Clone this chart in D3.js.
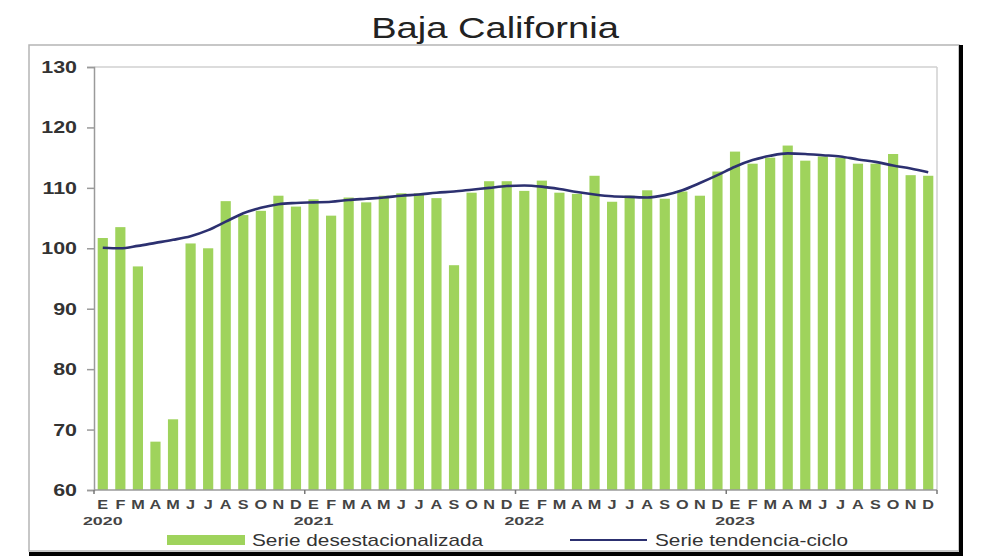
<!DOCTYPE html>
<html>
<head>
<meta charset="utf-8">
<script src="https://cdn.jsdelivr.net/npm/d3@7"></script>
<style>
  html, body { margin: 0; padding: 0; background: #fff; }
  text { font-family: "Liberation Sans", Arial, sans-serif; }
</style>
</head>
<body>
<svg id="chart" width="990" height="556"></svg>
<script>
const monthLabels = ["E","F","M","A","M","J","J","A","S","O","N","D"];
const years = ["2020","2021","2022","2023"];
const seasonal = [
  101.7,103.5,97.0,68.0,71.7,100.8,100.0,107.8,105.5,106.2,108.7,106.9,
  108.1,105.4,108.4,107.6,108.7,109.1,109.1,108.3,97.2,109.2,111.1,111.1,
  109.5,111.2,109.2,109.0,112.0,107.7,108.7,109.6,108.2,109.4,108.7,112.7,
  116.0,114.0,115.0,117.0,114.5,115.2,115.0,114.0,114.0,115.6,112.1,112.0
];
const trend = [
  100.1,100.0,100.4,100.9,101.4,102.0,103.0,104.4,105.8,106.7,107.3,107.5,
  107.6,107.7,108.0,108.2,108.4,108.7,108.9,109.2,109.4,109.7,110.0,110.3,
  110.4,110.2,109.8,109.3,108.9,108.6,108.5,108.4,108.8,109.6,110.8,112.1,
  113.5,114.6,115.3,115.7,115.6,115.4,115.2,114.7,114.3,113.7,113.2,112.6
];
const yTicks = [60,70,80,90,100,110,120,130];
const title = "Baja California";
const legendLabels = ["Serie desestacionalizada","Serie tendencia-ciclo"];

const svg = d3.select("#chart");
const plot = {left: 94, right: 937, top: 67, bottom: 490};
const barColor = "#9fd35c", lineColor = "#2c3070";

const idx = d3.range(seasonal.length);
const x = d3.scaleBand().domain(idx).range([plot.left, plot.right]).paddingInner(0.42).paddingOuter(0.21);
const y = d3.scaleLinear().domain([60,130]).range([plot.bottom, plot.top]);

function stext(g, tx, ty, str, size, sx, anchor, fill, weight) {
  return g.append("text")
    .attr("transform", `translate(${tx},${ty}) scale(${sx},1)`)
    .attr("text-anchor", anchor)
    .attr("font-size", size)
    .attr("font-weight", weight || "normal")
    .attr("fill", fill)
    .text(str);
}

// outer frame
svg.append("rect").attr("x",29).attr("y",45).attr("width",930).attr("height",506)
  .attr("fill","none").attr("stroke","#b5b5b5").attr("stroke-width",1.5);
svg.append("line").attr("x1",961).attr("x2",961).attr("y1",45).attr("y2",556)
  .attr("stroke","#000").attr("stroke-width",4);
svg.append("line").attr("x1",29).attr("x2",963).attr("y1",554).attr("y2",554)
  .attr("stroke","#000").attr("stroke-width",4);

// title
stext(svg, 495, 38, title, 30, 1.27, "middle", "#222");

// plot area border (top and right)
svg.append("line").attr("x1",plot.left).attr("x2",plot.right).attr("y1",plot.top).attr("y2",plot.top)
  .attr("stroke","#d0d0d0").attr("stroke-width",1.5);
svg.append("line").attr("x1",plot.right).attr("x2",plot.right).attr("y1",plot.top).attr("y2",plot.bottom)
  .attr("stroke","#d0d0d0").attr("stroke-width",1.5);

// bars
svg.append("g").selectAll("rect").data(seasonal).join("rect")
  .attr("x",(d,i)=>x(i)).attr("width",x.bandwidth())
  .attr("y",d=>y(d)).attr("height",d=>plot.bottom - y(d))
  .attr("fill",barColor);

// y axis
const yAxis = d3.axisLeft(y).tickValues(yTicks).tickSize(7).tickFormat("");
const gy = svg.append("g").attr("transform",`translate(${plot.left},0)`).call(yAxis);
gy.select(".domain").attr("stroke","#9a9a9a").attr("stroke-width",1.5);
gy.selectAll(".tick line").attr("stroke","#9a9a9a").attr("stroke-width",1.5);
yTicks.forEach(v => stext(svg, 77, y(v)+6, String(v), 16.5, 1.3, "end", "#333", "bold"));

// x axis line
svg.append("line").attr("x1",plot.left).attr("x2",plot.right).attr("y1",plot.bottom).attr("y2",plot.bottom)
  .attr("stroke","#9a9a9a").attr("stroke-width",1.5);
const step = x.step();
const boundaries = d3.range(0, seasonal.length+1, 12).map(i => plot.left + i*step);
svg.append("g").selectAll("line").data(boundaries).join("line")
  .attr("x1",d=>d).attr("x2",d=>d).attr("y1",plot.bottom).attr("y2",plot.bottom+4)
  .attr("stroke","#777").attr("stroke-width",1.5);

// month labels
idx.forEach(i => stext(svg, x(i)+x.bandwidth()/2, 509, monthLabels[i%12], 12.5, 1.3, "middle", "#444", "bold"));
// year labels
years.forEach((yr,k) => stext(svg, x(k*12)+x.bandwidth()/2, 525, yr, 11.5, 1.55, "middle", "#444", "bold"));

// trend line
const line = d3.line().x((d,i)=>x(i)+x.bandwidth()/2).y(d=>y(d)).curve(d3.curveMonotoneX);
svg.append("path").datum(trend).attr("d",line).attr("fill","none")
  .attr("stroke",lineColor).attr("stroke-width",2.6);

// legend
svg.append("rect").attr("x",167).attr("y",535).attr("width",78).attr("height",10).attr("fill",barColor);
stext(svg, 252, 546, legendLabels[0], 16, 1.3, "start", "#333");
svg.append("line").attr("x1",570).attr("x2",647).attr("y1",540).attr("y2",540)
  .attr("stroke",lineColor).attr("stroke-width",2.2);
stext(svg, 655, 546, legendLabels[1], 16, 1.3, "start", "#333");
</script>
</body>
</html>
